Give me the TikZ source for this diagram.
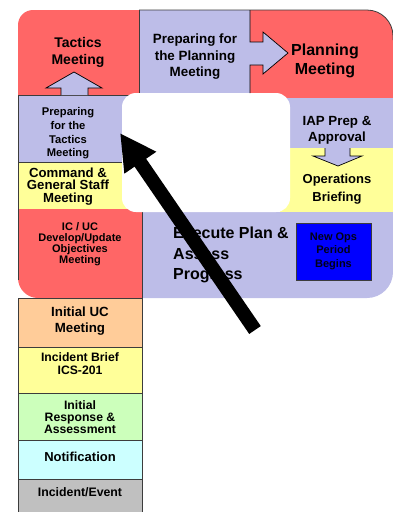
\documentclass[tikz,border=0pt]{standalone}
\usepackage{fontspec}
\setmainfont{Liberation Sans}
\usetikzlibrary{arrows.meta}
\definecolor{cred}{RGB}{255,102,102}
\definecolor{clav}{RGB}{189,189,232}
\definecolor{cyel}{RGB}{255,255,153}
\definecolor{cpeach}{RGB}{255,204,153}
\definecolor{cgreen}{RGB}{204,255,187}
\definecolor{ccyan}{RGB}{204,255,255}
\definecolor{cgray}{RGB}{192,192,192}
\definecolor{cblue}{RGB}{0,0,255}
\definecolor{cline}{RGB}{60,60,60}
\definecolor{cnavy}{RGB}{0,0,25}
\begin{document}
\begin{tikzpicture}[x=1pt,y=-1pt,
  edge/.style={draw=cline, line width=0.8pt},
  blockarrow/.style={fill=clav, draw=black, line width=0.7pt, line join=miter},
  lbl/.style={align=center, inner sep=0pt, text=black},
  pointer/.style={line width=14pt, -{Triangle[length=36pt,width=36pt]}}]
\useasboundingbox (0,0) rectangle (393,512);

% ---- upper cycle: coloured regions ----
% Tactics Meeting
\fill[cred] (18,96) [rounded corners=15pt] -- (18,10) [sharp corners] -- (139,10) -- (139,96) -- cycle;
% Preparing for the Planning Meeting
\fill[clav] (139,10) rectangle (250,98);
% Planning Meeting
\fill[cred] (250,10) [rounded corners=26pt] -- (393,10) [sharp corners] -- (393,98) -- (250,98) -- cycle;
\draw[edge] (139,10) [rounded corners=26pt] -- (393,10) [sharp corners] -- (393,40);
\draw[edge] (139,10) -- (139,95);
\draw[edge] (250,98) -- (393,98);
% IAP Prep & Approval
\fill[clav] (280,98) rectangle (393,148);
% Operations Briefing
\fill[cyel] (280,148) rectangle (393,212);
% Execute Plan & Assess Progress
\fill[clav] (142,212) -- (393,212) [rounded corners=26pt] -- (393,298) [sharp corners] -- (142,298) -- cycle;
% Preparing for the Tactics Meeting
\fill[clav] (18,95) rectangle (139,162);
% Command & General Staff Meeting
\fill[cyel] (18,162) rectangle (139,209);
% IC / UC Objectives Meeting
\fill[cred] (142,209) -- (18,209) [rounded corners=20pt] -- (18,298) [sharp corners] -- (142,298) -- cycle;
\draw[edge] (18,95) -- (139,95);
\draw[edge] (18,162) -- (122,162);
\draw[edge] (18,95) -- (18,280);
\draw[edge] (142,212) -- (142,298);

% centre panel
\fill[white, rounded corners=14pt] (122,93) rectangle (290,212);

% block arrows between stages
\draw[blockarrow] (61,95) -- (61,88) -- (46,88) -- (74,72) -- (102,88) -- (88,88) -- (88,95);
\draw[blockarrow] (250,10) -- (250,42) -- (263,42) -- (263,32) -- (288,53) -- (263,74) -- (263,65) -- (250,65) -- (250,93);
\draw[blockarrow] (325,148) -- (325,156) -- (313,156) -- (338,166) -- (362,156) -- (350,156) -- (350,148);

% new operational period marker
\node[draw=cline, fill=cblue, line width=0.8pt, minimum width=75pt, minimum height=57pt, inner sep=0pt] (newops) at (333.5,251.5) {};
\node[lbl, font=\fontsize{11}{13.5}\selectfont\bfseries, text=cnavy] (newopstext) at (333.5,251) {New Ops\\Period\\Begins};

% ---- lower column: initial response stages ----
\draw[edge, fill=cpeach] (18,298) rectangle (142,347);
\draw[edge, fill=cyel] (18,347) rectangle (142,393);
\draw[edge, fill=cgreen] (18,393) rectangle (142,440);
\draw[edge, fill=ccyan] (18,440) rectangle (142,479);
\draw[edge, fill=cgray] (18,479) rectangle (142,516);

% ---- labels ----
\node[lbl, font=\fontsize{14}{17}\selectfont\bfseries] (tactics) at (78,52.5) {Tactics\\Meeting};
\node[lbl, font=\fontsize{13.4}{16.5}\selectfont\bfseries] (prepplan) at (195,57) {Preparing for\\the Planning\\Meeting};
\node[lbl, font=\fontsize{16}{19}\selectfont\bfseries] (planning) at (325,61) {Planning\\Meeting};
\node[lbl, font=\fontsize{13.3}{16}\selectfont\bfseries] (iap) at (337,130) {IAP Prep \&\\Approval};
\node[lbl, font=\fontsize{13}{18}\selectfont\bfseries] (ops) at (337,189) {Operations\\Briefing};
\node[lbl, font=\fontsize{11.2}{13.7}\selectfont\bfseries] (preptact) at (68,133.5) {Preparing\\for the\\Tactics\\Meeting};
\node[lbl, font=\fontsize{13.2}{12.6}\selectfont\bfseries] (command) at (68,186.5) {Command \&\\General Staff\\Meeting};
\node[lbl, font=\fontsize{11}{11.1}\selectfont\bfseries] (icuc) at (80,244.5) {IC / UC\\Develop/Update\\Objectives\\Meeting};
\node[lbl, align=left, anchor=west, font=\fontsize{16}{20.5}\selectfont\bfseries] (execute) at (173,255) {Execute Plan \&\\Assess\\Progress};
\node[lbl, font=\fontsize{13.3}{16}\selectfont\bfseries] (initialuc) at (80,321) {Initial UC\\Meeting};
\node[lbl, font=\fontsize{12.2}{13}\selectfont\bfseries] (brief) at (80,363.5) {Incident Brief\\ICS-201};
\node[lbl, font=\fontsize{12.2}{12}\selectfont\bfseries] (response) at (80,417) {Initial\\Response \&\\Assessment};
\node[lbl, font=\fontsize{13}{16}\selectfont\bfseries] (notification) at (80,457) {Notification};
\node[lbl, font=\fontsize{12.3}{15}\selectfont\bfseries] (incident) at (80,492) {Incident/Event};

% pointer toward the current stage
\coordinate (tail) at (255,330);
\coordinate (tip) at (120,133);
\draw[pointer] (tail) -- (tip);
\end{tikzpicture}
\end{document}
